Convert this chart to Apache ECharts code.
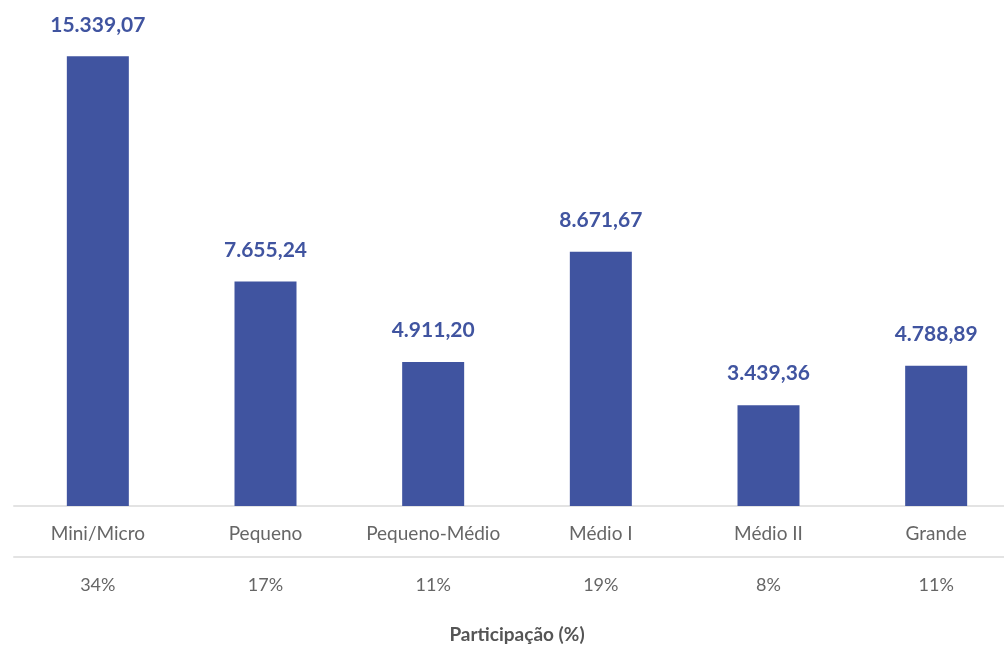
<!DOCTYPE html>
<html>
<head>
<meta charset="utf-8">
<script src="https://cdn.jsdelivr.net/npm/echarts@6/dist/echarts.min.js"></script>
<style>
  html, body { margin: 0; padding: 0; background: #fff; overflow: hidden; }
  #wrap { width: 1004px; height: 649px; overflow: hidden; }
  /* the axis lines run past the right edge of the page */
  #chart { width: 1020px; height: 649px; }
</style>
</head>
<body>
<div id="wrap"><div id="chart"></div></div>
<script>
// Porte das empresas, valores e participação percentual
const categories = ['Mini/Micro', 'Pequeno', 'Pequeno-Médio', 'Médio I', 'Médio II', 'Grande'];
const values = [15339.07, 7655.24, 4911.20, 8671.67, 3439.36, 4788.89];
const participation = [34, 17, 11, 19, 8, 11];

// Formata número no padrão brasileiro: 15.339,07
function formatBR(v) {
  const parts = v.toFixed(2).split('.');
  const intPart = parts[0].replace(/\B(?=(\d{3})+(?!\d))/g, '.');
  return intPart + ',' + parts[1];
}

const BAR = '#4054a0';
const FONT = 'Lato, "Open Sans", sans-serif';

const chart = echarts.init(document.getElementById('chart'));
chart.setOption({
  animation: false,
  textStyle: { fontFamily: FONT },
  grid: { left: 14, right: 0, top: 37, bottom: 142 },
  xAxis: [
    {
      type: 'category',
      data: categories,
      position: 'bottom',
      axisLine: { show: true, lineStyle: { color: '#e3e3e3', width: 2 } },
      axisTick: { show: false },
      axisLabel: { interval: 0, color: '#666', fontSize: 19, margin: 18, fontFamily: FONT }
    },
    {
      type: 'category',
      data: participation.map(p => p + '%'),
      position: 'bottom',
      offset: 51,
      axisLine: { show: true, lineStyle: { color: '#e3e3e3', width: 2 } },
      axisTick: { show: false },
      axisLabel: { interval: 0, color: '#666', fontSize: 18, margin: 19, fontFamily: FONT },
      name: 'Participação (%)',
      nameLocation: 'middle',
      nameGap: 68,
      nameTextStyle: { color: '#555', fontSize: 19, fontWeight: 'bold', fontFamily: FONT }
    }
  ],
  yAxis: {
    type: 'value',
    min: 0,
    max: 16000,
    show: false,
    splitLine: { show: false }
  },
  series: [{
    type: 'bar',
    xAxisIndex: 0,
    data: values,
    barWidth: 62,
    itemStyle: { color: BAR },
    label: {
      show: true,
      position: 'top',
      distance: 21,
      color: BAR,
      fontSize: 21,
      fontWeight: 'bold',
      fontFamily: FONT,
      formatter: p => formatBR(p.value)
    }
  }]
});
</script>
</body>
</html>
